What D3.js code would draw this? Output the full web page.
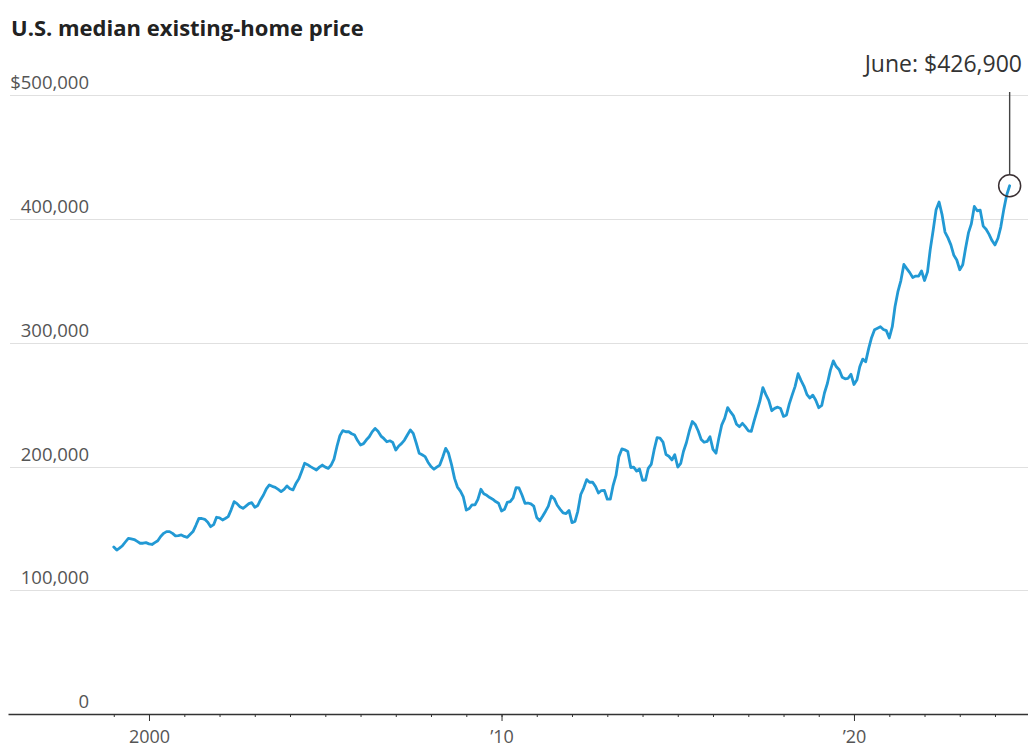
<!DOCTYPE html>
<html>
<head>
<meta charset="utf-8">
<script src="https://cdn.jsdelivr.net/npm/d3@7"></script>
<style>
  html, body { margin: 0; padding: 0; background: #fff; }
  svg { display: block; font-family: "Open Sans", Roboto, sans-serif; }
</style>
</head>
<body>
<svg id="chart" width="1028" height="748"></svg>
<script>
// Monthly U.S. median existing-home sales price, January 1999 – June 2024 (dollars)
const firstYear = 1999;
const medianPrice = [
  135000, 132500, 134000, 136000, 139000, 142000, 141500, 141000, 139500, 138000, 138000, 138500, // 1999
  137500, 137000, 138500, 140000, 143500, 146000, 147400, 147400, 146000, 144000, 144200, 144700, // 2000
  143500, 142800, 145000, 147400, 152500, 158100, 158000, 157300, 155000, 151400, 153000, 159000, // 2001
  158500, 156800, 158000, 159500, 165000, 171600, 170000, 167500, 166200, 168000, 170000, 170800, // 2002
  167000, 168500, 173000, 177000, 182000, 185100, 184000, 183200, 181500, 179700, 181500, 184300, // 2003
  182000, 181100, 186000, 190000, 196000, 202600, 201500, 199900, 198500, 197200, 199500, 201200, // 2004
  199500, 198500, 201000, 206000, 216000, 225000, 229000, 228100, 228100, 226500, 225400, 221000, // 2005
  217400, 218500, 221400, 224000, 228000, 230800, 228500, 224600, 222500, 220000, 220800, 219500, // 2006
  213300, 216600, 218500, 221400, 225500, 229500, 226800, 219000, 210700, 209500, 208000, 203500, // 2007
  200000, 197800, 199500, 201200, 207500, 214700, 210700, 201500, 190400, 183400, 180100, 175400, // 2008
  164800, 166100, 169000, 169000, 173400, 181600, 178000, 176700, 174900, 173600, 171700, 170300, // 2009
  164100, 165400, 171000, 171700, 174600, 183000, 182700, 177000, 170300, 170500, 169800, 168000, // 2010
  158800, 156100, 159600, 163700, 168000, 176100, 174000, 168700, 165400, 162500, 162000, 164500, // 2011
  154700, 155600, 163800, 177400, 182600, 189400, 187300, 187400, 183900, 178600, 180600, 180800, // 2012
  173600, 173600, 184300, 192800, 208000, 214200, 213500, 212100, 199200, 199500, 196300, 198000, // 2013
  188900, 189000, 198500, 201700, 213400, 223300, 222900, 219800, 209700, 208300, 205300, 209500, // 2014
  199600, 202600, 212100, 219400, 228700, 236400, 234000, 228700, 221900, 219600, 220300, 224100, // 2015
  213800, 210800, 222700, 233700, 238900, 247600, 244100, 240900, 234200, 232200, 234900, 232200, // 2016
  228900, 228400, 236400, 244800, 252800, 263800, 258300, 253500, 245100, 247000, 248000, 246800, // 2017
  240500, 241700, 250400, 257900, 264800, 275000, 269600, 264800, 258100, 255400, 257700, 253600, // 2018
  247500, 249400, 259400, 267300, 277700, 285400, 280800, 278200, 272100, 270900, 271300, 274500, // 2019
  266300, 270100, 280600, 286800, 284600, 295300, 304100, 310600, 311800, 313000, 310800, 309800, // 2020
  303900, 313000, 329100, 341600, 350300, 363300, 359900, 356700, 352800, 353900, 353900, 358000, // 2021
  350300, 357300, 375300, 391200, 407600, 413800, 403800, 389500, 384800, 379100, 370700, 366900, // 2022
  359000, 363000, 375700, 388800, 396100, 410200, 406700, 407100, 394300, 391800, 387600, 382600, // 2023
  379100, 384500, 393500, 407600, 419300, 426900                                                  // 2024
];

const yTickValues = [0, 100000, 200000, 300000, 400000, 500000];
const yTickLabels = ["0", "100,000", "200,000", "300,000", "400,000", "$500,000"];
const tickYears = d3.range(1999, 2025);
const labelYears = [2000, 2010, 2020];
const labelYearText = ["2000", "\u201910", "\u201920"];
const chartTitle = "U.S. median existing-home price";
const calloutText = "June: $426,900";

const series = medianPrice.map((v, i) => ({
  date: new Date(firstYear + Math.floor(i / 12), i % 12, 1),
  value: v
}));

const svg = d3.select("#chart");

const x = d3.scaleTime()
  .domain([new Date(1996, 0, 1), new Date(2025, 0, 1)])
  .range([8, 1030.3]);
const y = d3.scaleLinear()
  .domain([0, 500000])
  .range([714, 95.3]);

// title
svg.append("text")
  .attr("x", 11).attr("y", 36)
  .attr("font-size", 22).attr("font-weight", 700)
  .attr("fill", "#222")
  .text(chartTitle);

// horizontal gridlines and value labels
const grid = svg.append("g");
grid.selectAll("line")
  .data(yTickValues.filter(v => v > 0))
  .join("line")
  .attr("x1", 10).attr("x2", 1028)
  .attr("y1", d => Math.round(y(d)) + 0.5)
  .attr("y2", d => Math.round(y(d)) + 0.5)
  .attr("stroke", "#e0e0e0").attr("stroke-width", 1);

grid.selectAll("text")
  .data(yTickValues)
  .join("text")
  .attr("x", 89)
  .attr("y", d => y(d) - 6)
  .attr("text-anchor", "end")
  .attr("font-size", 18.5)
  .attr("fill", "#555")
  .text((d, i) => yTickLabels[i]);

// bottom axis: small ticks each year, longer labelled ticks each decade
const xAxisMinor = d3.axisBottom(x)
  .tickValues(tickYears.map(yr => new Date(yr, 0, 1)))
  .tickSize(3).tickSizeOuter(0)
  .tickFormat("");
const gMinor = svg.append("g")
  .attr("transform", "translate(0,714)")
  .call(xAxisMinor);
gMinor.select(".domain").attr("stroke", "#333").attr("stroke-width", 1.3);
gMinor.selectAll(".tick line").attr("stroke", "#333");

const xAxisMajor = d3.axisBottom(x)
  .tickValues(labelYears.map(yr => new Date(yr, 0, 1)))
  .tickSize(7).tickPadding(9)
  .tickFormat((d, i) => labelYearText[i]);
const gMajor = svg.append("g")
  .attr("transform", "translate(0,714)")
  .call(xAxisMajor);
gMajor.select(".domain").remove();
gMajor.selectAll(".tick line").attr("stroke", "#333");
gMajor.selectAll(".tick text")
  .attr("font-family", "\"Open Sans\", Roboto, sans-serif")
  .attr("font-size", 18)
  .attr("fill", "#555");

// price line
const line = d3.line()
  .x(d => x(d.date))
  .y(d => y(d.value));

svg.append("path")
  .datum(series)
  .attr("d", line)
  .attr("fill", "none")
  .attr("stroke", "#2299d4")
  .attr("stroke-width", 2.8)
  .attr("stroke-linejoin", "round")
  .attr("stroke-linecap", "round");

// callout on the latest month
const last = series[series.length - 1];
const cx = x(last.date), cy = y(last.value);
const r = 11;
svg.append("line")
  .attr("x1", cx).attr("x2", cx)
  .attr("y1", 92).attr("y2", cy - r)
  .attr("stroke", "#444").attr("stroke-width", 1.4);
svg.append("circle")
  .attr("cx", cx).attr("cy", cy).attr("r", r)
  .attr("fill", "none")
  .attr("stroke", "#3a3033").attr("stroke-width", 1.5);
svg.append("text")
  .attr("x", 1022).attr("y", 72)
  .attr("text-anchor", "end")
  .attr("font-size", 23)
  .attr("fill", "#333")
  .text(calloutText);
</script>
</body>
</html>
